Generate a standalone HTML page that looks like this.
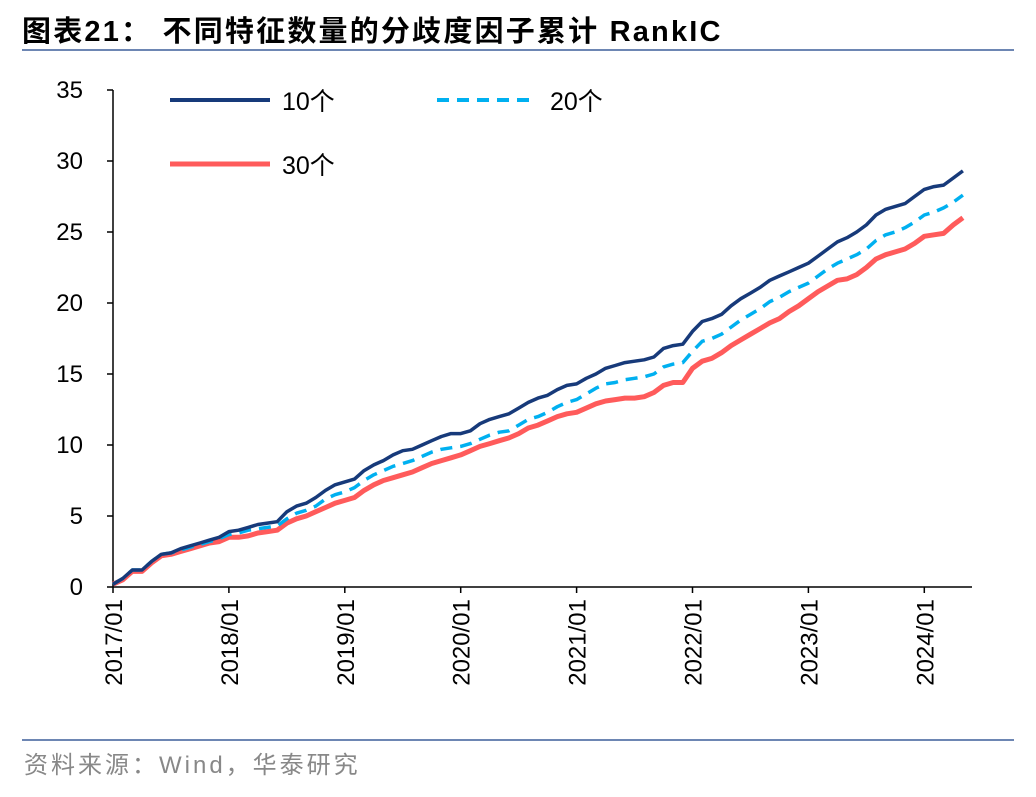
<!DOCTYPE html>
<html><head><meta charset="utf-8"><style>
body{margin:0;background:#fff;width:1036px;height:792px;overflow:hidden;font-family:"Liberation Sans","Noto Sans CJK SC",sans-serif}
</style></head><body>
<svg id="c" width="1036" height="792" xmlns="http://www.w3.org/2000/svg">
<text x="22" y="41" font-size="29" font-weight="bold" fill="#000" letter-spacing="2.2" font-family="Liberation Sans, Noto Sans CJK SC, sans-serif">图表21：  不同特征数量的分歧度因子累计 RankIC</text>
<line x1="22" y1="50" x2="1014" y2="50" stroke="#3d5f9a" stroke-width="1.5"/>
<line x1="22" y1="740" x2="1014" y2="740" stroke="#3d5f9a" stroke-width="1.5"/>
<text x="24" y="773" font-size="24" fill="#888" letter-spacing="3" font-family="Liberation Sans, Noto Sans CJK SC, sans-serif">资料来源：Wind，华泰研究</text>
<g id="axes"></g><g id="series"></g>
<g>
<line x1="170" y1="100" x2="270" y2="100" stroke="#173a7a" stroke-width="4"/>
<text x="282" y="110" font-size="25" font-family="Liberation Sans, Noto Sans CJK SC, sans-serif">10个</text>
<line x1="437" y1="100" x2="537" y2="100" stroke="#00b0f0" stroke-width="4" stroke-dasharray="12,8"/>
<text x="550" y="110" font-size="25" font-family="Liberation Sans, Noto Sans CJK SC, sans-serif">20个</text>
<line x1="170" y1="164" x2="270" y2="164" stroke="#ff5b5b" stroke-width="5"/>
<text x="282" y="174" font-size="25" font-family="Liberation Sans, Noto Sans CJK SC, sans-serif">30个</text>
</g>
</svg>
<script>
const yTicks=[0,5,10,15,20,25,30,35];
const xLabels=["2017/01","2018/01","2019/01","2020/01","2021/01","2022/01","2023/01","2024/01"];
const s10=[0.2,0.6,1.2,1.2,1.8,2.3,2.4,2.7,2.9,3.1,3.3,3.5,3.9,4.0,4.2,4.4,4.5,4.6,5.3,5.7,5.9,6.3,6.8,7.2,7.4,7.6,8.2,8.6,8.9,9.3,9.6,9.7,10.0,10.3,10.6,10.8,10.8,11.0,11.5,11.8,12.0,12.2,12.6,13.0,13.3,13.5,13.9,14.2,14.3,14.7,15.0,15.4,15.6,15.8,15.9,16.0,16.2,16.8,17.0,17.1,18.0,18.7,18.9,19.2,19.8,20.3,20.7,21.1,21.6,21.9,22.2,22.5,22.8,23.3,23.8,24.3,24.6,25.0,25.5,26.2,26.6,26.8,27.0,27.5,28.0,28.2,28.3,28.8,29.3];
const s20=[0.2,0.6,1.2,1.2,1.8,2.3,2.4,2.6,2.8,3.0,3.2,3.4,3.7,3.8,4.0,4.1,4.2,4.3,4.8,5.2,5.4,5.7,6.2,6.5,6.7,7.0,7.5,7.9,8.2,8.5,8.7,8.9,9.2,9.5,9.7,9.8,9.9,10.1,10.4,10.7,10.9,11.0,11.4,11.8,12.0,12.3,12.7,13.0,13.2,13.6,14.0,14.3,14.4,14.6,14.7,14.8,15.0,15.5,15.7,15.8,16.6,17.3,17.5,17.8,18.3,18.8,19.2,19.6,20.1,20.4,20.8,21.1,21.4,21.9,22.4,22.8,23.1,23.4,23.8,24.4,24.8,25.0,25.3,25.7,26.2,26.4,26.7,27.1,27.6];
const s30=[0.2,0.5,1.1,1.1,1.7,2.2,2.3,2.5,2.7,2.9,3.1,3.2,3.5,3.5,3.6,3.8,3.9,4.0,4.5,4.8,5.0,5.3,5.6,5.9,6.1,6.3,6.8,7.2,7.5,7.7,7.9,8.1,8.4,8.7,8.9,9.1,9.3,9.6,9.9,10.1,10.3,10.5,10.8,11.2,11.4,11.7,12.0,12.2,12.3,12.6,12.9,13.1,13.2,13.3,13.3,13.4,13.7,14.2,14.4,14.4,15.4,15.9,16.1,16.5,17.0,17.4,17.8,18.2,18.6,18.9,19.4,19.8,20.3,20.8,21.2,21.6,21.7,22.0,22.5,23.1,23.4,23.6,23.8,24.2,24.7,24.8,24.9,25.5,26.0];
const NS="http://www.w3.org/2000/svg";
const x0=113,yearW=115.9,yB=587,yT=90;
const xs=i=>x0+i*yearW/12;
const ys=v=>yB-(v/35)*(yB-yT);
function mk(tag,attrs,parent){const e=document.createElementNS(NS,tag);for(const k in attrs)e.setAttribute(k,attrs[k]);parent.appendChild(e);return e;}
const ax=document.getElementById('axes');
let l=mk('line',{x1:x0,y1:yT,x2:x0,y2:yB,stroke:'#000','stroke-width':1.5},ax);


l=mk('line',{x1:x0,y1:yB,x2:972,y2:yB,stroke:'#000','stroke-width':1.5},ax);


yTicks.forEach(v=>{
 const t=mk('line',{x1:x0-6,y1:ys(v),x2:x0,y2:ys(v),stroke:'#000','stroke-width':1.5},ax);
 
 
 const tx=mk('text',{x:x0-30,y:ys(v)+8,'font-size':24,'text-anchor':'end'},ax);
 tx.textContent=v;
 
 
});
xLabels.forEach((s,i)=>{
 const x=x0+i*yearW;
 const t=mk('line',{x1:x,y1:yB,x2:x,y2:yB+6,stroke:'#000','stroke-width':1.5},ax);
 
 
 const tx=mk('text',{x:0,y:0,'font-size':24,'text-anchor':'end',transform:`translate(${x+9},${yB+12}) rotate(-90)`},ax);
 tx.textContent=s;
 
 
});
const sg=document.getElementById('series');
function line(arr,color,w,dash,name){
 const p=mk('polyline',{points:arr.map((v,i)=>xs(i).toFixed(1)+','+ys(v).toFixed(1)).join(' '),fill:'none',stroke:color,'stroke-width':w,'stroke-linejoin':'round'},sg);
 if(dash)p.setAttribute('stroke-dasharray',dash);
 
 
}
line(s30,'#ff5b5b',5,null,'series-30');
line(s20,'#00b0f0',3.5,'12,8','series-20');
line(s10,'#173a7a',3.5,null,'series-10');
</script>
</body></html>
